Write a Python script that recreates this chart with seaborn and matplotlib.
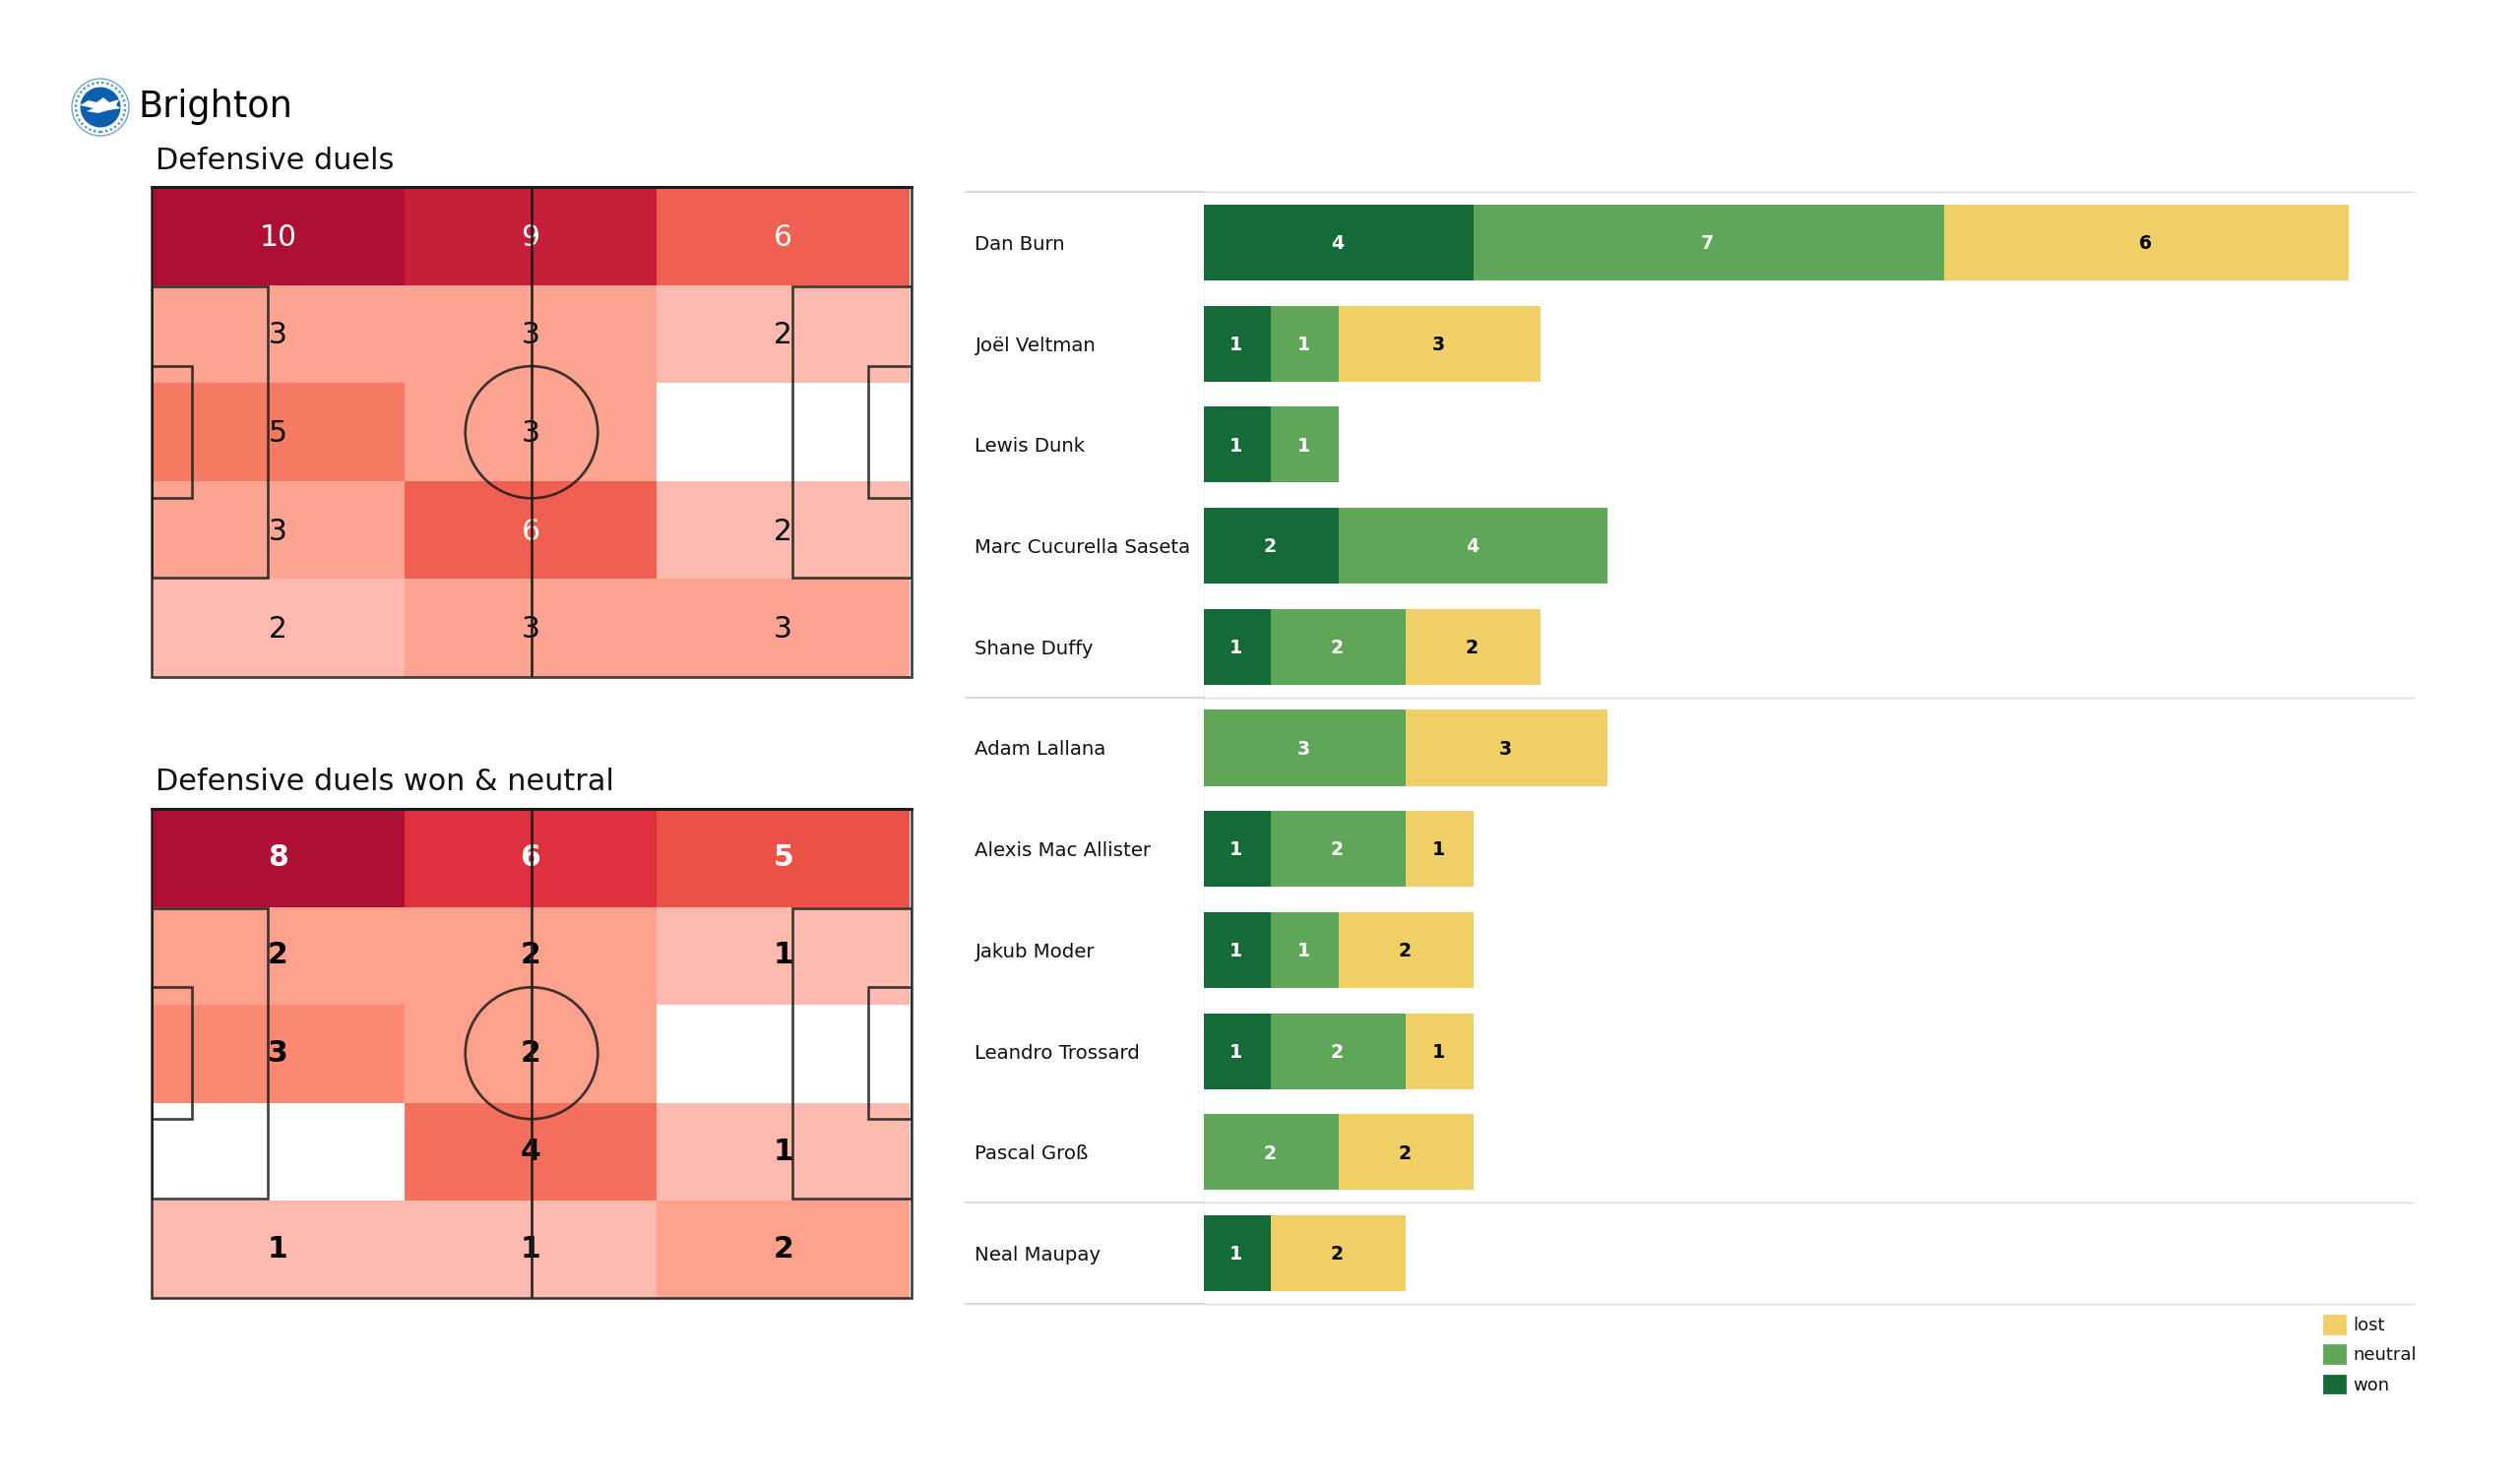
import numpy as np
import pandas as pd
import matplotlib
matplotlib.use('Agg')
import matplotlib.pyplot as plt
from matplotlib.colors import LinearSegmentedColormap
from matplotlib.patches import Circle, Ellipse, Patch, Polygon, Rectangle
from matplotlib.transforms import blended_transform_factory
import seaborn as sns

# Data
players = ['Dan Burn', 'Joël Veltman', 'Lewis Dunk', 'Marc Cucurella Saseta', 'Shane Duffy',
           'Adam Lallana', 'Alexis Mac Allister', 'Jakub Moder', 'Leandro Trossard',
           'Pascal Groß', 'Neal Maupay']
won = [4, 1, 1, 2, 1, 0, 1, 1, 1, 0, 1]
neutral = [7, 1, 1, 4, 2, 3, 2, 1, 2, 2, 0]
lost = [6, 3, 0, 0, 2, 3, 1, 2, 1, 2, 2]
group_lines = [-0.5, 4.5, 9.5, 10.5]

duels_all = [[10, 9, 6],
             [3, 3, 2],
             [5, 3, 0],
             [3, 6, 2],
             [2, 3, 3]]
duels_won = [[8, 6, 5],
             [2, 2, 1],
             [3, 2, 0],
             [0, 4, 1],
             [1, 1, 2]]

# colour reached at each count on the two pitches
reds_all = {0: '#ffffff', 2: '#feb9ae', 3: '#fda390', 5: '#f67a62', 6: '#f06050', 9: '#c71e3a', 10: '#ae1035'}
reds_won = {0: '#ffffff', 1: '#feb9ae', 2: '#fda08c', 3: '#fc8a72', 4: '#f46f5c', 5: '#ec5248', 6: '#e0303e', 8: '#ae1035'}

WON, NEUTRAL, LOST = '#156b37', '#60a658', '#f0d066'
W, H = 2560, 1504

sns.set_theme(style='white')
plt.rcParams['font.family'] = 'DejaVu Sans'

fig = plt.figure(figsize=(W / 200, H / 200), dpi=200, facecolor='white')


def box(x0, y0, x1, y1):
    # pixel box (y from the top) to figure fractions
    return [x0 / W, 1 - y1 / H, (x1 - x0) / W, (y1 - y0) / H]


def draw_pitch(y0, y1, line_y0, line_y1, grid, reds, weight, nudge):
    ax = fig.add_axes(box(154, y0, 924, y1))
    grid = np.array(grid)
    cmap = LinearSegmentedColormap.from_list('duels', [(k / max(reds), c) for k, c in reds.items()])
    labels = np.where(grid > 0, grid.astype(str), '')
    sns.heatmap(grid, ax=ax, cmap=cmap, vmin=0, vmax=grid.max(), cbar=False, annot=labels, fmt='',
                annot_kws={'fontsize': 10.7, 'fontweight': weight}, xticklabels=False, yticklabels=False)
    limit = 6 if grid.max() == 10 else 5
    for txt in ax.texts:
        if txt.get_text():
            txt.set_color('white' if int(txt.get_text()) >= limit else 'black')
            txt.set_y(txt.get_position()[1] + nudge)

    # pitch markings in metres, on top of the cells
    ov = fig.add_axes(box(154, line_y0, 926, line_y1), facecolor='none')
    ov.set_xlim(0, 105)
    ov.set_ylim(0, 68)
    ov.axis('off')
    line = dict(fill=False, ec='#1c1c1c', lw=0.95, alpha=0.85)
    ov.add_patch(Rectangle((0, 0), 105, 68, clip_on=False, **line))
    for x, w in [(0, 16), (105 - 16.4, 16.4)]:
        ov.add_patch(Rectangle((x, 13.84), w, 40.32, **line))
    for x, w in [(0, 5.6), (105 - 6, 6)]:
        ov.add_patch(Rectangle((x, 24.84), w, 18.32, **line))
    ov.add_patch(Ellipse((52.5, 34), 18.3, 18.3, **line))
    ov.plot([52.5, 52.5], [0, 68], color='#1c1c1c', lw=0.95, alpha=0.95)
    ov.plot([0, 105], [68, 68], color='#1c1c1c', lw=1.1, clip_on=False)


draw_pitch(190, 688, 190, 688.5, duels_all, reds_all, 'normal', 0.015)
draw_pitch(822, 1320, 821.5, 1319, duels_won, reds_won, 'bold', -0.005)

# Stacked bars
df = pd.DataFrame({'player': players, 'won': won, 'neutral': neutral, 'lost': lost})
df['c_neutral'] = df['won'] + df['neutral']
df['c_lost'] = df['c_neutral'] + df['lost']

ax = fig.add_axes(box(1223, 195, 2452, 1325))
for col, colour in [('c_lost', LOST), ('c_neutral', NEUTRAL), ('won', WON)]:
    sns.barplot(data=df, x=col, y='player', color=colour, saturation=1, width=0.75, linewidth=0, ax=ax)
ax.set_xlim(0, 1229 / 68.4)
ax.set_ylim(10.5, -0.5)
ax.set_xlabel('')
ax.set_ylabel('')
ax.set_xticks([])
ax.tick_params(axis='y', length=0, pad=83.9, labelsize=7.1, labelcolor='#111111')
for lab in ax.get_yticklabels():
    lab.set_ha('left')
for s in ['top', 'right', 'bottom']:
    ax.spines[s].set_visible(False)
ax.spines['left'].set_color('#f2f2f2')
ax.spines['left'].set_linewidth(0.4)
ax.spines['left'].set_zorder(0)

label_kw = dict(ha='center', va='center', fontsize=6.8, fontweight='bold')
for i, row in df.iterrows():
    y = i + 0.012
    if row['won']:
        ax.text(row['won'] / 2 - 0.02, y, row['won'], color='white', **label_kw)
    if row['neutral']:
        ax.text(row['won'] + row['neutral'] / 2 - 0.02, y, row['neutral'], color='white', **label_kw)
    if row['lost']:
        ax.text(row['c_neutral'] + row['lost'] / 2 - 0.02, y, row['lost'], color='black', **label_kw)

trans = blended_transform_factory(ax.transAxes, ax.transData)
left = -(1223 - 981) / (2452 - 1223)
for y in group_lines:
    ax.plot([left, 0], [y, y], transform=trans, color='#cfcfcf', lw=0.6, clip_on=False)
    ax.plot([0, 1], [y, y], transform=trans, color='#dcdcdc', lw=0.5, clip_on=False)

fig.legend(handles=[Patch(color=LOST, label='lost'), Patch(color=NEUTRAL, label='neutral'), Patch(color=WON, label='won')],
           loc='upper left', bbox_to_anchor=(2361 / W, 1 - 1337 / H), frameon=False, fontsize=6.5,
           handlelength=1.15, handleheight=1.15, handletextpad=0.45, labelspacing=0.62,
           borderpad=0, borderaxespad=0, labelcolor='#111111')

# Titles
fig.text(140 / W, 1 - 119 / H, 'Brighton', fontsize=13.2, color='black', va='baseline')
fig.text(158.5 / W, 1 - 171.5 / H, 'Defensive duels', fontsize=10.9, color='#111111', va='baseline')
fig.text(158.5 / W, 1 - 803 / H, 'Defensive duels won & neutral', fontsize=10.9, color='#111111', va='baseline')

# Club badge
badge = fig.add_axes(box(70, 77, 134, 141))
badge.set_xlim(-32, 32)
badge.set_ylim(-32, 32)
badge.axis('off')
badge.add_patch(Circle((0, 0), 29, fc='white', ec='#6fa8c8', lw=0.5))
badge.add_patch(Circle((0, 0), 25, fill=False, ec='#5f9cc4', lw=0.9, ls=(0, (1, 1))))
badge.add_patch(Circle((0, 0), 20.5, fc='#0b5fae', ec='none'))
badge.add_patch(Polygon([(-21, 2), (-12, 7), (-4, 5), (3, 10), (9, 5), (19, 8), (16, 2),
                         (21, -1), (8, -3), (-2, -6), (-14, -4), (-7, -1)], fc='white', ec='none'))

fig.savefig('out.png', dpi=200, facecolor='white')
